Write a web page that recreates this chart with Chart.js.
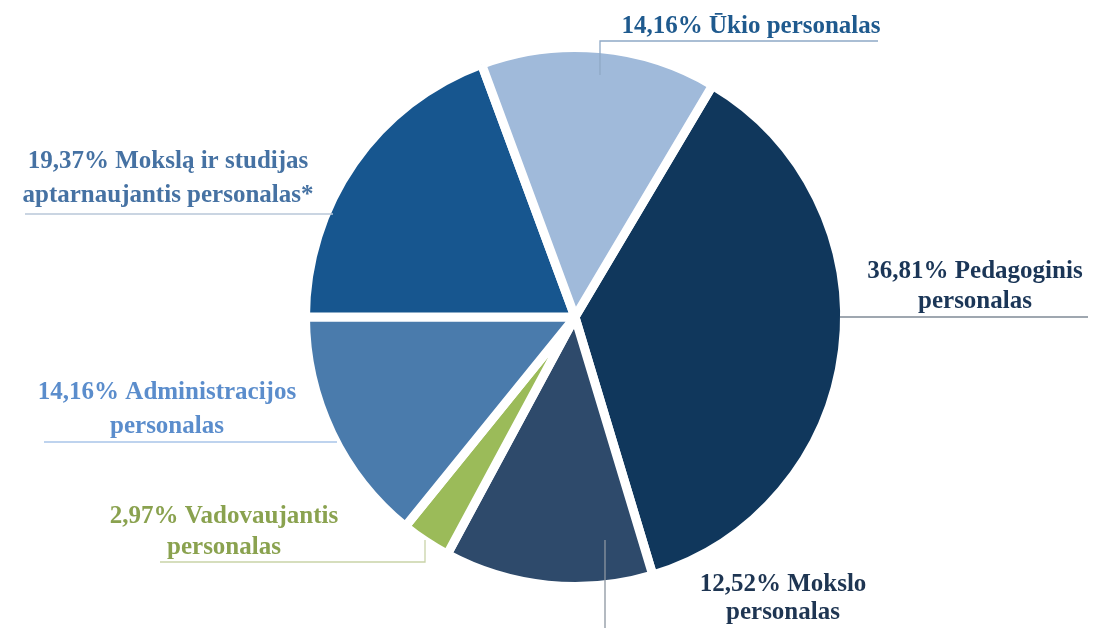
<!DOCTYPE html>
<html>
<head>
<meta charset="utf-8">
<script src="https://cdn.jsdelivr.net/npm/chart.js@4"></script>
<style>
    html, body { margin: 0; padding: 0; background: #fff; }
    #wrap { width: 1094px; height: 628px; position: relative; }
</style>
</head>
<body>
<div id="wrap"><canvas id="chart" width="1094" height="628"></canvas></div>
<script>
// data (clockwise, starting from the upper right)
let categories = ['Pedagoginis personalas', 'Mokslo personalas', 'Vadovaujantis personalas',
    'Administracijos personalas', 'Mokslą ir studijas aptarnaujantis personalas*', 'Ūkio personalas'];
let shares = [36.81, 12.52, 2.97, 14.16, 19.37, 14.16];
let sliceColors = ['#10375c', '#2e4a6b', '#9bbb59', '#4a7bac', '#17568f', '#a0bada'];

// label texts and their colours
let labelLines = [
    ['36,81% Pedagoginis', 'personalas'],
    ['12,52% Mokslo', 'personalas'],
    ['2,97% Vadovaujantis', 'personalas'],
    ['14,16% Administracijos', 'personalas'],
    ['19,37% Mokslą ir studijas', 'aptarnaujantis personalas*'],
    ['14,16% Ūkio personalas']
];
let labelColors = ['#1b3657', '#1e3552', '#8aa24f', '#5b8dcc', '#4672a3', '#1f5a8e'];
let leaderColors = ['#7f8a96', '#8c95a0', '#c9d3a8', '#a9c4e8', '#b9c7d8', '#8fa9c6'];

// label placement, relative to pie centre (text centre x, first line y, line gap, leader points)
let labelLayout = [
    { x: 400, y: -45, gap: 30, leader: [[265, 0], [513, 0]] },
    { x: 208, y: 268, gap: 28, leader: [[30, 223], [30, 311]] },
    { x: -351, y: 200, gap: 31, leader: [[-415, 245], [-150, 245], [-150, 223]] },
    { x: -408, y: 76, gap: 34, leader: [[-531, 125], [-238, 125]] },
    { x: -407, y: -155, gap: 34, leader: [[-550, -103], [-242, -103]] },
    { x: 176, y: -290, gap: 30, leader: [[25, -242], [25, -276], [303, -276]] }
];

const labelPlugin = {
    id: 'sliceLabels',
    afterDatasetsDraw(chart) {
        let ctx = chart.ctx;
        let arc = chart.getDatasetMeta(0).data[0];
        let cx = arc.x;
        let cy = arc.y;
        ctx.save();
        for (let i = 0; i < labelLines.length; i++) {
            let lay = labelLayout[i];
            // leader line
            ctx.strokeStyle = leaderColors[i];
            ctx.lineWidth = 1.3;
            ctx.beginPath();
            for (let j = 0; j < lay.leader.length; j++) {
                let p = lay.leader[j];
                if (j == 0) ctx.moveTo(cx + p[0], cy + p[1]);
                else ctx.lineTo(cx + p[0], cy + p[1]);
            }
            ctx.stroke();
            // text
            ctx.fillStyle = labelColors[i];
            ctx.font = 'bold 25px "Liberation Serif", serif';
            ctx.textAlign = 'center';
            ctx.textBaseline = 'middle';
            for (let j = 0; j < labelLines[i].length; j++) {
                ctx.fillText(labelLines[i][j], cx + lay.x, cy + lay.y + j * lay.gap);
            }
        }
        ctx.restore();
    }
};

window.onload = function () {
    let ctx = document.getElementById('chart').getContext('2d');
    let chart = new Chart(ctx, {
        type: 'pie',
        data: {
            labels: categories,
            datasets: [{
                data: shares,
                backgroundColor: sliceColors,
                borderColor: '#ffffff',
                borderWidth: 9,
                hoverOffset: 0
            }]
        },
        options: {
            responsive: false,
            animation: false,
            rotation: 30.7,
            layout: {
                padding: { left: 301, right: 245, top: 43, bottom: 37 }
            },
            plugins: {
                legend: { display: false },
                tooltip: { enabled: false }
            }
        },
        plugins: [labelPlugin]
    });
}
</script>
</body>
</html>
